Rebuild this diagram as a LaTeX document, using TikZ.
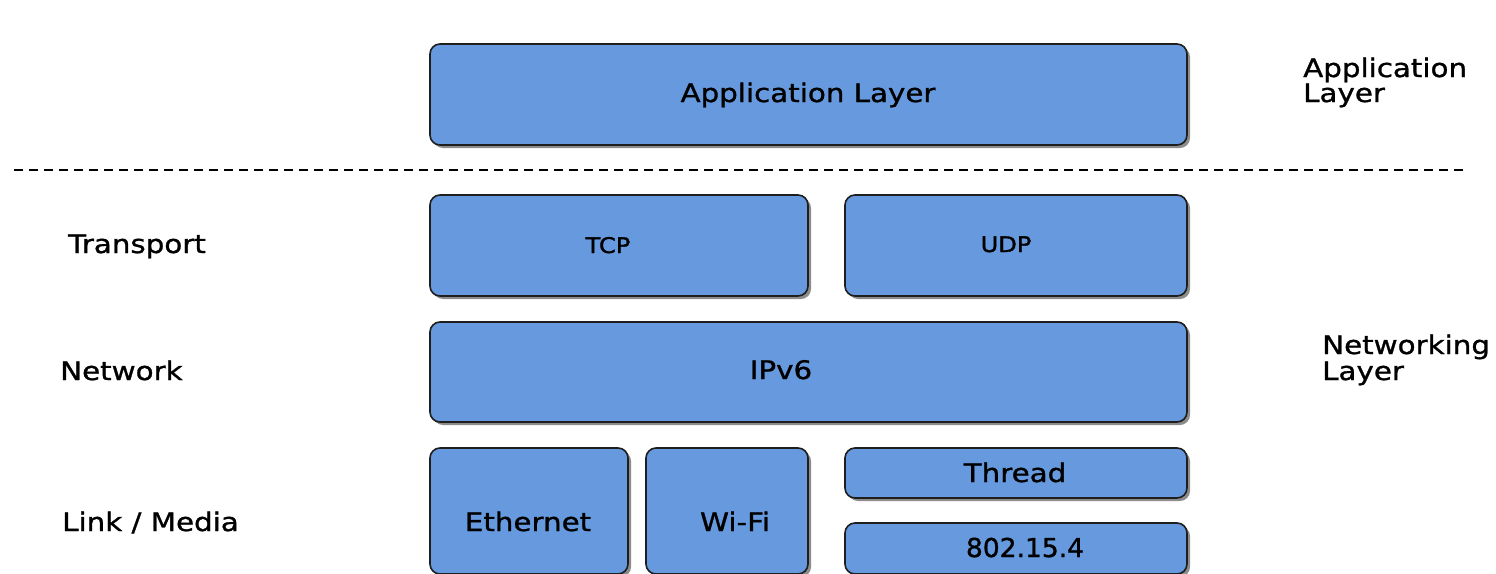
\documentclass[tikz,border=0pt]{standalone}
\usepackage{fontspec}
\setmainfont{DejaVu Sans}[FakeStretch=1.15, FakeBold=1.1]
\newfontfamily\plainfont{DejaVu Sans}[FakeStretch=1.02, FakeBold=1.1]
\newfontfamily\smallfont{DejaVu Sans}[FakeStretch=1.12, FakeBold=1.6]
\usetikzlibrary{shadows}
\definecolor{boxblue}{HTML}{6699DD}
\definecolor{boxline}{HTML}{1E1E1E}
\begin{document}
\begin{tikzpicture}[x=1pt,y=-1pt,
  box/.style={draw=boxline, line width=1.6pt, fill=boxblue, rounded corners=10pt,
    inner sep=0pt, drop shadow={shadow xshift=3pt, shadow yshift=-3pt, fill=black, opacity=0.45}},
  lbl/.style={inner sep=0pt, font=\fontsize{25.5}{25.5}\selectfont, text=black},
  slbl/.style={inner sep=0pt, font=\smallfont\fontsize{21.5}{21.5}\selectfont, text=black},
  sep/.style={line width=1.4pt, dash pattern=on 9pt off 6pt}
]
\useasboundingbox (0,0) rectangle (1496,573);
\clip (0,0) rectangle (1496,573);
\fill[white] (0,0) rectangle (1496,573);

% boxes
\node[box, minimum width=757pt, minimum height=101pt] (app) at (808.5,94.5) {};
\node[box, minimum width=378pt, minimum height=101pt] (tcp) at (619,245.5) {};
\node[box, minimum width=342pt, minimum height=101pt] (udp) at (1016,245.5) {};
\node[box, minimum width=757pt, minimum height=100pt] (ipv) at (808.5,372) {};
\node[box, minimum width=198pt, minimum height=126pt] (eth) at (529,511) {};
\node[box, minimum width=162pt, minimum height=126pt] (wifi) at (727,511) {};
\node[box, minimum width=342pt, minimum height=50pt] (thr) at (1016,473) {};
\node[box, minimum width=342pt, minimum height=51pt] (ieee) at (1016,548.5) {};

% box texts
\node[lbl, anchor=base] (appt) at (808,102) {Application Layer};
\node[slbl, anchor=base] (tcpt) at (608,253) {TCP};
\node[slbl, anchor=base] (udpt) at (1006,252) {UDP};
\node[lbl, anchor=base] (ipvt) at (781,379) {IPv6};
\node[lbl, anchor=base] (etht) at (528,531) {Ethernet};
\node[lbl, anchor=base] (wifit) at (735,531) {Wi-Fi};
\node[lbl, anchor=base] (thrt) at (1015,482) {Thread};
\node[lbl, anchor=base, font=\plainfont\fontsize{26}{26}\selectfont] (ieeet) at (1025,557) {802.15.4};

% separator
\coordinate (sepL) at (14,170);
\coordinate (sepR) at (1468,170);
\draw[sep] (sepL) -- (sepR);

% left labels
\node[lbl, anchor=base west] (ltrans) at (68,253) {Transport};
\node[lbl, anchor=base west] (lnet) at (60,380) {Network};
\node[lbl, anchor=base west] (llink) at (62,531) {Link / Media};

% right labels
\node[lbl, anchor=base west] (rapp1) at (1303,77) {Application};
\node[lbl, anchor=base west] (rapp2) at (1303,102) {Layer};
\node[lbl, anchor=base west] (rnet1) at (1322,354) {Networking};
\node[lbl, anchor=base west] (rnet2) at (1322,380) {Layer};
\end{tikzpicture}
\end{document}
